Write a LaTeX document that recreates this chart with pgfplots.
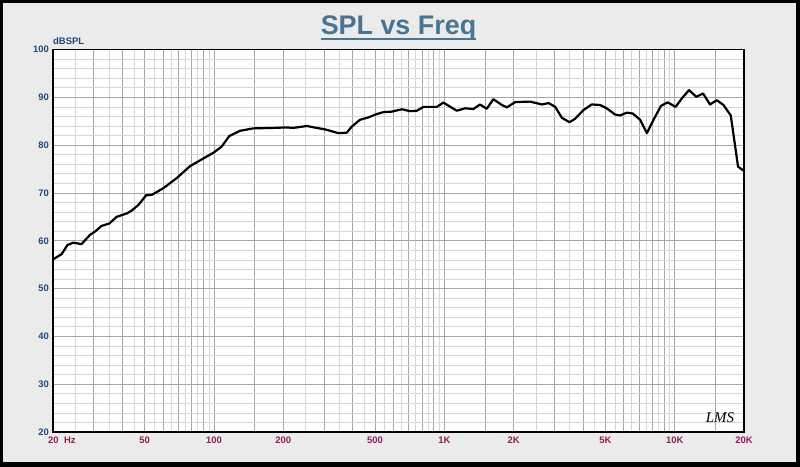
\documentclass[border=0pt]{standalone}
\usepackage{pgfplots}
\pgfplotsset{compat=1.18}
\usepackage{fontspec}
\setmainfont{Liberation Sans}
\newfontfamily\logofont{Liberation Serif}
\definecolor{bggray}{HTML}{EBEBEB}
\definecolor{titleblue}{HTML}{4A7592}
\definecolor{ylab}{HTML}{24477A}
\definecolor{xlab}{HTML}{8E1F55}
\definecolor{gmaj}{HTML}{A6A6A6}
\definecolor{gmin}{HTML}{D6D6D6}
\begin{document}
\begin{tikzpicture}[x=1bp,y=1bp]
\useasboundingbox (0,0) rectangle (800,467);
\fill[black] (0,0) rectangle (800,467);
\fill[bggray] (3,5) rectangle (796,464);
\node[inner sep=0, anchor=base, text=titleblue] (t) at (398.5,432) {\fontsize{27}{27}\selectfont\bfseries SPL vs Freq};
\draw[titleblue, line width=2bp] ([yshift=-4.3bp]t.base west) -- ([yshift=-4.3bp]t.base east);
\node[inner sep=0, anchor=west, text=ylab] at (53,425.5) {\fontsize{9.5}{9.5}\selectfont\bfseries dBSPL};
\begin{axis}[
  at={(53bp,35bp)}, anchor=south west,
  scale only axis, width=691bp, height=382.5bp,
  xmode=log, xmin=20, xmax=20000, ymin=20, ymax=100,
  axis background/.style={fill=white},
  axis line style={black, line width=1.5bp},
  xtick={20,30,40,50,60,70,80,90,100,150,200,300,400,500,600,700,800,900,1000,1500,2000,3000,4000,5000,6000,7000,8000,9000,10000,15000,20000},
  xticklabels={{\makebox[10bp][l]{20\hspace{5.5bp}Hz}},{},{},50,{},{},{},{},100,{},200,{},{},500,{},{},{},{},1K,{},2K,{},{},5K,{},{},{},{},10K,{},20K},
  minor xtick={25,35,45,55,65,75,85,95,250,350,450,550,650,750,850,950,2500,3500,4500,5500,6500,7500,8500,9500},
  ytick={20,30,40,50,60,70,80,90,100},
  minor ytick={22,24,26,28,32,34,36,38,42,44,46,48,52,54,56,58,62,64,66,68,72,74,76,78,82,84,86,88,92,94,96,98},
  grid=both,
  major grid style={gmaj, line width=0.7bp},
  minor grid style={gmin, line width=0.7bp},
  major tick length=0pt, minor tick length=0pt,
  /pgf/number format/assume math mode=true,
  xticklabel style={font=\fontsize{9.5}{9.5}\selectfont\bfseries, text=xlab, inner sep=0pt, anchor=north, yshift=-5bp},
  yticklabel style={font=\fontsize{9.5}{9.5}\selectfont\bfseries, text=ylab, inner sep=0pt, anchor=east, xshift=-4bp},
  clip=true,
]
\addplot[black, line width=2.2bp, line join=round] coordinates {
(20,56.1) (21.8,57.2) (23.1,59.1) (24.5,59.6) (26.6,59.3) (28.9,61.2) (30.4,61.9) (32.5,63.1) (35.1,63.6) (37.8,65.0) (41.8,65.7) (43.9,66.3) (47.0,67.5) (50.7,69.5) (53.7,69.6) (60.3,71.0) (68.9,73.1) (78.7,75.6) (89.8,77.2) (99.4,78.4) (108,79.7) (116.5,81.9) (129.8,83.0) (148,83.5) (181,83.6) (207,83.7) (221,83.6) (253,84.0) (279,83.6) (303,83.3) (347,82.5) (377,82.6) (396,83.85) (430,85.3) (468,85.8) (509,86.5) (544,86.9) (590,87.0) (654,87.5) (710,87.1) (760,87.2) (812,88.0) (928,88.0) (990,88.9) (1132,87.2) (1230,87.7) (1337,87.55) (1428,88.5) (1528,87.6) (1632,89.6) (1776,88.4) (1868,87.9) (2030,89.0) (2356,89.1) (2652,88.5) (2835,88.8) (3030,88.0) (3240,85.7) (3492,84.8) (3694,85.5) (4012,87.3) (4360,88.5) (4738,88.4) (5068,87.7) (5512,86.4) (5794,86.2) (6196,86.8) (6582,86.6) (7080,85.3) (7572,82.5) (8094,85.3) (8718,88.2) (9320,88.95) (10090,88.0) (10794,89.9) (11538,91.5) (12420,90.1) (13280,90.8) (14240,88.5) (15220,89.4) (16280,88.4) (17520,86.2) (18840,75.5) (20000,74.6)
};
\end{axis}
\node[inner sep=0, anchor=center] at (720,49) {\logofont\itshape\fontsize{15}{15}\selectfont LMS};
\end{tikzpicture}
\end{document}
